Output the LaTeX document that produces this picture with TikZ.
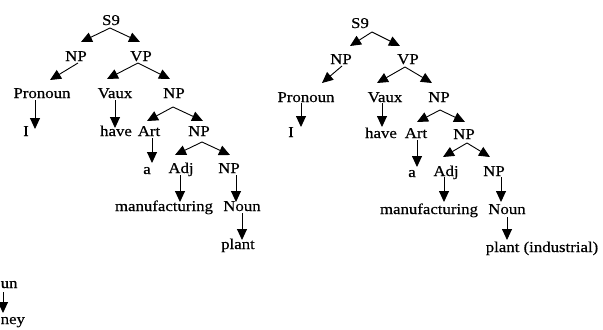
\documentclass[tikz,border=0pt]{standalone}
\usepackage{fontspec}
\newfontfamily\treefont{Liberation Serif}[FakeStretch=1.12,FakeBold=0.4]
\usetikzlibrary{arrows.meta}
\begin{document}
\begin{tikzpicture}[x=1bp,y=-1bp,
  lbl/.style={anchor=base,inner sep=0pt,font=\treefont\fontsize{15bp}{18bp}\selectfont},
  arr/.style={line width=0.9bp,-{Triangle[length=11bp,width=10bp]}}]
\useasboundingbox (0,0) rectangle (603,329);
\fill[white] (0,0) rectangle (603,329);

% ---------- left tree ----------
\node[lbl] (lS) at (111,25) {S9};
\node[lbl] (lNP) at (76,61) {NP};
\node[lbl] (lVP) at (141,61) {VP};
\node[lbl] (lPro) at (42,98) {Pronoun};
\node[lbl] (lVaux) at (115,98) {Vaux};
\node[lbl] (lNPb) at (174,98) {NP};
\node[lbl] (lI) at (26,136) {I};
\node[lbl] (lhave) at (116,136) {have};
\node[lbl] (lArt) at (149,136) {Art};
\node[lbl] (lNPc) at (199,136) {NP};
\node[lbl] (la) at (147,174) {a};
\node[lbl] (lAdj) at (181,173) {Adj};
\node[lbl] (lNPd) at (229,173) {NP};
\node[lbl] (lman) at (164,211) {manufacturing};
\node[lbl] (lNoun) at (242,211) {Noun};
\node[lbl] (lplant) at (238,249) {plant};

\coordinate (lSa) at (110,28);
\coordinate (lNPt) at (81,42);
\coordinate (lVPt) at (140,42);
\coordinate (lNPs) at (78,63);
\coordinate (lProt) at (50,80);
\coordinate (lVPa) at (138,63);
\coordinate (lVauxt) at (107,79);
\coordinate (lNPbt) at (170,79);
\coordinate (lPros) at (35,100);
\coordinate (lIt) at (35,129);
\coordinate (lVauxs) at (115,100);
\coordinate (lhavet) at (115,128);
\coordinate (lNPba) at (173,107);
\coordinate (lArtt) at (147,121);
\coordinate (lNPct) at (203,121);
\coordinate (lArts) at (152,138);
\coordinate (lat) at (152,163);
\coordinate (lNPca) at (202,142);
\coordinate (lAdjt) at (175,155);
\coordinate (lNPdt) at (230,155);
\coordinate (lAdjs) at (180,175);
\coordinate (lmant) at (180,202);
\coordinate (lNPds) at (236,175);
\coordinate (lNount) at (236,202);
\coordinate (lNouns) at (242,213);
\coordinate (lplantt) at (242,240);

\draw[arr] (lSa) -- (lNPt);
\draw[arr] (lSa) -- (lVPt);
\draw[arr] (lNPs) -- (lProt);
\draw[arr] (lVPa) -- (lVauxt);
\draw[arr] (lVPa) -- (lNPbt);
\draw[arr] (lPros) -- (lIt);
\draw[arr] (lVauxs) -- (lhavet);
\draw[arr] (lNPba) -- (lArtt);
\draw[arr] (lNPba) -- (lNPct);
\draw[arr] (lArts) -- (lat);
\draw[arr] (lNPca) -- (lAdjt);
\draw[arr] (lNPca) -- (lNPdt);
\draw[arr] (lAdjs) -- (lmant);
\draw[arr] (lNPds) -- (lNount);
\draw[arr] (lNouns) -- (lplantt);

% ---------- right tree ----------
\node[lbl] (rS) at (360,28) {S9};
\node[lbl] (rNP) at (341,64) {NP};
\node[lbl] (rVP) at (408,64) {VP};
\node[lbl] (rPro) at (306,102) {Pronoun};
\node[lbl] (rVaux) at (385,102) {Vaux};
\node[lbl] (rNPb) at (439,102) {NP};
\node[lbl] (rI) at (291,137) {I};
\node[lbl] (rhave) at (381,138) {have};
\node[lbl] (rArt) at (416,138) {Art};
\node[lbl] (rNPc) at (464,139) {NP};
\node[lbl] (ra) at (412,177) {a};
\node[lbl] (rAdj) at (446,176) {Adj};
\node[lbl] (rNPd) at (494,176) {NP};
\node[lbl] (rman) at (429,214) {manufacturing};
\node[lbl] (rNoun) at (507,214) {Noun};
\node[lbl] (rplant) at (542,252) {plant (industrial)};

\coordinate (rSa) at (372,32);
\coordinate (rNPt) at (350,46);
\coordinate (rVPt) at (400,46);
\coordinate (rNPs) at (342,66);
\coordinate (rProt) at (322,83);
\coordinate (rVPa) at (405,67);
\coordinate (rVauxt) at (377,83);
\coordinate (rNPbt) at (432,83);
\coordinate (rPros) at (301,103);
\coordinate (rIt) at (301,127);
\coordinate (rVauxs) at (382,103);
\coordinate (rhavet) at (382,127);
\coordinate (rNPba) at (440,110);
\coordinate (rArtt) at (417,122);
\coordinate (rNPct) at (465,122);
\coordinate (rArts) at (417,140);
\coordinate (rat) at (417,167);
\coordinate (rNPca) at (467,143);
\coordinate (rAdjt) at (443,157);
\coordinate (rNPdt) at (490,157);
\coordinate (rAdjs) at (444,177);
\coordinate (rmant) at (444,202);
\coordinate (rNPds) at (501,177);
\coordinate (rNount) at (501,202);
\coordinate (rNouns) at (507,217);
\coordinate (rplantt) at (507,240);

\draw[arr] (rSa) -- (rNPt);
\draw[arr] (rSa) -- (rVPt);
\draw[arr] (rNPs) -- (rProt);
\draw[arr] (rVPa) -- (rVauxt);
\draw[arr] (rVPa) -- (rNPbt);
\draw[arr] (rPros) -- (rIt);
\draw[arr] (rVauxs) -- (rhavet);
\draw[arr] (rNPba) -- (rArtt);
\draw[arr] (rNPba) -- (rNPct);
\draw[arr] (rArts) -- (rat);
\draw[arr] (rNPca) -- (rAdjt);
\draw[arr] (rNPca) -- (rNPdt);
\draw[arr] (rAdjs) -- (rmant);
\draw[arr] (rNPds) -- (rNount);
\draw[arr] (rNouns) -- (rplantt);

% ---------- fragment at bottom left ----------
\node[lbl,anchor=base west] (fun) at (0.5,288) {un};
\node[lbl,anchor=base west] (fney) at (0.5,324) {ney};
\coordinate (funs) at (3,292);
\coordinate (fneyt) at (3,313);
\draw[arr] (funs) -- (fneyt);
\end{tikzpicture}
\end{document}
